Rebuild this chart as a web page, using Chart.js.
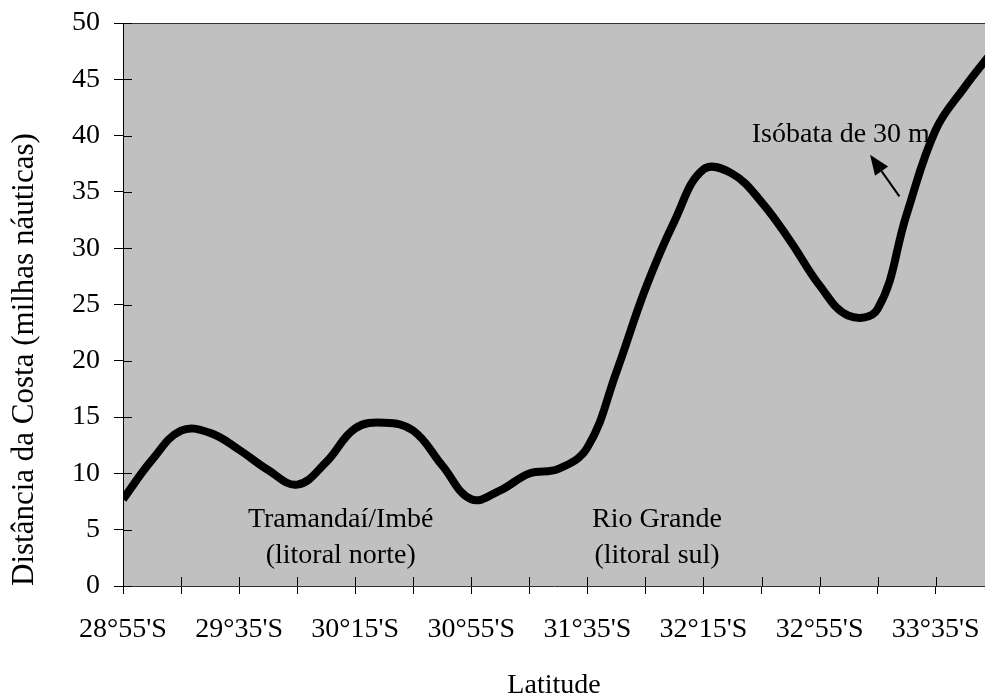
<!DOCTYPE html>
<html lang="pt-BR">
<head>
<meta charset="utf-8">
<title>Distância da isóbata de 30 m</title>
<script src="https://cdn.jsdelivr.net/npm/chart.js@4.4.1/dist/chart.umd.min.js"></script>
<style>
  html, body { margin: 0; padding: 0; background: #fff; overflow: hidden; }
  #grafico { display: block; }
</style>
</head>
<body>
<canvas id="grafico" width="985" height="700"></canvas>
<script>
// ==========================================
// DADOS
// ==========================================
// minutos ao sul de 28°55'S
const minutos = [0, 10, 20, 30, 40, 50, 60, 70, 80, 90, 100, 110, 120, 130, 140, 150,
                 160, 170, 180, 190, 200, 210, 220, 230, 240, 250, 260, 270, 280, 290, 300];
// distância da costa (milhas náuticas)
const distancias = [7.7, 11.2, 13.8, 13.6, 12.1, 10.3, 9.0, 11.0, 14.0, 14.5, 13.8, 10.7, 7.7, 8.5, 10.0, 10.4,
                    12.3, 19.0, 26.4, 32.4, 37.0, 36.6, 34.1, 30.6, 26.7, 24.0, 24.6, 33.0, 40.5, 44.3, 47.6];
const rotulosLatitude = ["28°55'S", "29°35'S", "30°15'S", "30°55'S", "31°35'S", "32°15'S", "32°55'S", "33°35'S"];

const anotacoes = [
  { texto: 'Tramandaí/Imbé', x: 75, y: 5.24, alinhar: 'center' },
  { texto: '(litoral norte)', x: 75, y: 2.07, alinhar: 'center' },
  { texto: 'Rio Grande', x: 184, y: 5.24, alinhar: 'center' },
  { texto: '(litoral sul)', x: 184, y: 2.07, alinhar: 'center' },
  { texto: 'Isóbata de 30 m', x: 278, y: 39.44, alinhar: 'right' }
];
const seta = { de: [267.5, 34.6], para: [257.4, 38.3] };

const FONTE = "'Liberation Serif', 'Times New Roman', serif";
Chart.defaults.font.family = FONTE;
Chart.defaults.font.size = 28;
Chart.defaults.color = '#000';

// ==========================================
// PLUGINS
// ==========================================
const fundoCinza = {
  id: 'fundoCinza',
  beforeDraw(chart) {
    const { ctx, chartArea: a } = chart;
    ctx.save();
    ctx.fillStyle = '#c0c0c0';
    ctx.fillRect(a.left, a.top, a.right - a.left, a.bottom - a.top);
    ctx.strokeStyle = '#333';
    ctx.lineWidth = 1;
    ctx.beginPath();
    ctx.moveTo(a.left, Math.round(a.top) + 0.5);
    ctx.lineTo(a.right, Math.round(a.top) + 0.5);
    ctx.stroke();
    ctx.restore();
  }
};

// marcas que cruzam o eixo (parte de dentro)
const marcasInternas = {
  id: 'marcasInternas',
  beforeDatasetsDraw(chart) {
    const { ctx, scales: { x, y } } = chart;
    ctx.save();
    ctx.strokeStyle = '#000';
    ctx.lineWidth = 1;
    ctx.beginPath();
    x.ticks.forEach(t => {
      const px = Math.round(x.getPixelForValue(t.value)) + 0.5;
      ctx.moveTo(px, y.bottom);
      ctx.lineTo(px, y.bottom - 9);
    });
    y.ticks.forEach(t => {
      const py = Math.round(y.getPixelForValue(t.value)) + 0.5;
      ctx.moveTo(x.left, py);
      ctx.lineTo(x.left + 9, py);
    });
    ctx.stroke();
    ctx.restore();
  }
};

const textos = {
  id: 'textos',
  afterDatasetsDraw(chart) {
    const { ctx, scales: { x, y } } = chart;
    ctx.save();
    ctx.fillStyle = '#000';
    ctx.font = '28px ' + FONTE;
    ctx.textBaseline = 'alphabetic';
    anotacoes.forEach(a => {
      ctx.textAlign = a.alinhar;
      ctx.fillText(a.texto, x.getPixelForValue(a.x), y.getPixelForValue(a.y));
    });

    // seta
    const x0 = x.getPixelForValue(seta.de[0]), y0 = y.getPixelForValue(seta.de[1]);
    const x1 = x.getPixelForValue(seta.para[0]), y1 = y.getPixelForValue(seta.para[1]);
    const ang = Math.atan2(y1 - y0, x1 - x0);
    const comp = 20, meia = 8;
    const bx = x1 - comp * Math.cos(ang), by = y1 - comp * Math.sin(ang);
    ctx.strokeStyle = '#000';
    ctx.lineWidth = 2;
    ctx.beginPath();
    ctx.moveTo(x0, y0);
    ctx.lineTo(bx, by);
    ctx.stroke();
    ctx.beginPath();
    ctx.moveTo(x1, y1);
    ctx.lineTo(bx + meia * Math.sin(ang), by - meia * Math.cos(ang));
    ctx.lineTo(bx - meia * Math.sin(ang), by + meia * Math.cos(ang));
    ctx.closePath();
    ctx.fill();
    ctx.restore();
  }
};

// ==========================================
// GRÁFICO
// ==========================================
new Chart(document.getElementById('grafico'), {
  type: 'line',
  data: {
    datasets: [{
      data: minutos.map((m, i) => ({ x: m, y: distancias[i] })),
      borderColor: '#000',
      borderWidth: 8,
      pointRadius: 0,
      tension: 0.4,
      fill: false,
      clip: 0
    }]
  },
  options: {
    responsive: false,
    animation: false,
    layout: { padding: { top: 23, right: 0, left: 0, bottom: 0 } },
    plugins: { legend: { display: false }, tooltip: { enabled: false } },
    scales: {
      x: {
        type: 'linear',
        min: 0,
        max: 297,
        afterBuildTicks: (scale) => {
          const t = [];
          for (let v = 0; v <= scale.max; v += 20) t.push({ value: v });
          scale.ticks = t;
        },
        afterFit: (scale) => {
          scale.height = 114;
          scale.paddingLeft = 0;
          scale.paddingRight = 0;
        },
        ticks: {
          autoSkip: false,
          maxRotation: 0,
          minRotation: 0,
          padding: 19,
          callback: (v) => v % 40 === 0 ? rotulosLatitude[v / 40] : ''
        },
        grid: { drawOnChartArea: false, drawTicks: true, tickLength: 8, color: '#000' },
        border: { color: '#333', width: 1 },
        title: { display: true, text: 'Latitude', font: { size: 28, lineHeight: 1 }, padding: { top: 0, bottom: 0 } }
      },
      y: {
        min: 0,
        max: 50,
        afterFit: (scale) => {
          scale.width = 123;
          scale.paddingTop = 0;
          scale.paddingBottom = 0;
        },
        ticks: { stepSize: 5, padding: 14 },
        grid: { drawOnChartArea: false, drawTicks: true, tickLength: 9, color: '#000' },
        border: { color: '#000', width: 1 },
        title: {
          display: true,
          text: 'Distância da Costa (milhas náuticas)',
          align: 'start',
          font: { size: 31, lineHeight: 1 },
          padding: { top: 9, bottom: 0 }
        }
      }
    }
  },
  plugins: [fundoCinza, marcasInternas, textos]
});
</script>
</body>
</html>
